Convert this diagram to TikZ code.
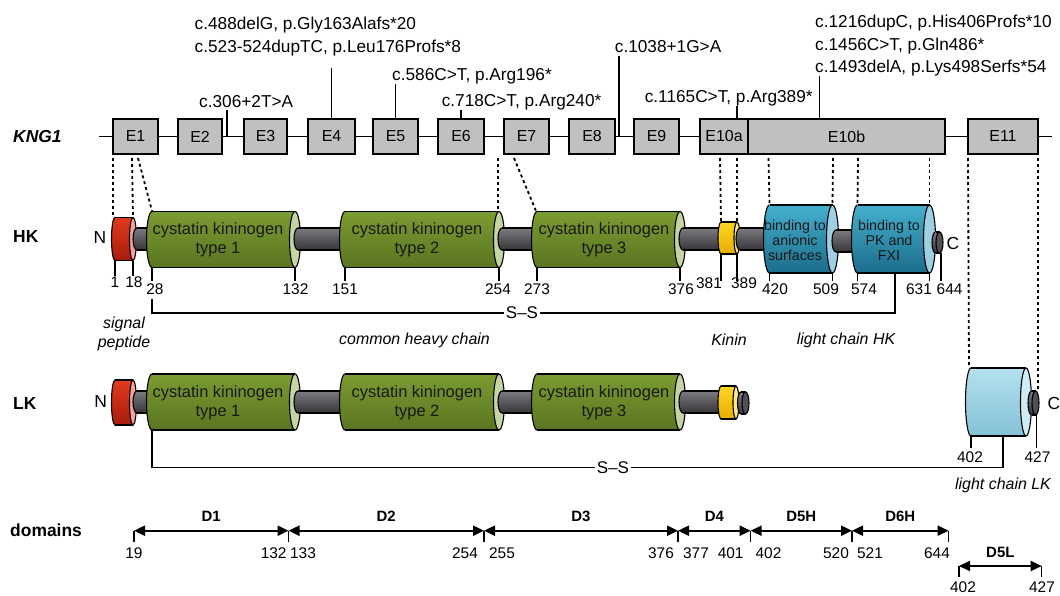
\documentclass[tikz,border=0pt]{standalone}
\usepackage{fontspec}
\setmainfont{Liberation Sans}
\usetikzlibrary{arrows.meta}

\definecolor{exongray}{HTML}{C0C0C0}
\definecolor{cysTop}{HTML}{7B9B32}
\definecolor{cysBot}{HTML}{5A7520}
\definecolor{cysFace}{HTML}{C6D4A4}
\definecolor{sigTop}{HTML}{E23A1C}
\definecolor{sigBot}{HTML}{A81C0C}
\definecolor{sigFace}{HTML}{F2A0A0}
\definecolor{kinTop}{HTML}{FFD524}
\definecolor{kinBot}{HTML}{E6AE00}
\definecolor{kinFace}{HTML}{FFE784}
\definecolor{bindTop}{HTML}{45B0CE}
\definecolor{bindBot}{HTML}{1B6C8A}
\definecolor{bindFace}{HTML}{9DD0E2}
\definecolor{lkTop}{HTML}{B4E1EE}
\definecolor{lkBot}{HTML}{84C2D7}
\definecolor{lkFace}{HTML}{CFECF5}
\definecolor{linkTop}{HTML}{7A7A80}
\definecolor{linkBot}{HTML}{36363A}
\definecolor{linkFace}{HTML}{505055}

\tikzset{
  cysbody/.style={top color=cysTop, bottom color=cysBot},
  cysface/.style={fill=cysFace},
  sigbody/.style={top color=sigTop, bottom color=sigBot},
  sigface/.style={fill=sigFace},
  kinbody/.style={top color=kinTop, bottom color=kinBot},
  kinface/.style={fill=kinFace},
  bindbody/.style={top color=bindTop, bottom color=bindBot},
  bindface/.style={fill=bindFace},
  lkbody/.style={top color=lkTop, bottom color=lkBot},
  lkface/.style={fill=lkFace},
  linkbody/.style={top color=linkTop, bottom color=linkBot},
  linkface/.style={fill=linkFace},
}

% #1 left x, #2 right x, #3 centre y, #4 half height, #5 x radius, #6 part
\newcommand{\protcyl}[6]{%
  \draw[line width=1.1bp, #6body] (#1,#3) ellipse[x radius=#5bp, y radius=#4bp];
  \path[#6body] (#1,#3-#4) rectangle (#2,#3+#4);
  \draw[line width=1.1bp] (#1,#3-#4) -- (#2,#3-#4) (#1,#3+#4) -- (#2,#3+#4);
  \draw[line width=1.1bp, #6face] (#2,#3) ellipse[x radius=#5bp, y radius=#4bp];
}

\begin{document}
\begin{tikzpicture}[x=1bp, y=-1bp,
    exon/.style={draw, line width=1.3bp, fill=exongray, minimum height=35bp, inner sep=0pt, font=\fontsize{16}{19}\selectfont},
    mut/.style={anchor=base west, inner sep=0pt, font=\fontsize{17.3}{21}\selectfont},
    stem/.style={line width=1.2bp},
    exdots/.style={line width=1.8bp, dash pattern=on 3bp off 3bp},
    rowlab/.style={anchor=west, inner sep=0pt, font=\bfseries\fontsize{17.5}{21}\selectfont},
    endlab/.style={inner sep=0pt, font=\fontsize{17.5}{21}\selectfont},
    num/.style={anchor=base, inner sep=0pt, font=\fontsize{15.5}{18}\selectfont},
    cystext/.style={align=center, inner sep=0pt, text=black!90, font=\fontsize{16.5}{18.7}\selectfont},
    bindtext/.style={align=center, inner sep=0pt, text=black!90, font=\fontsize{14.3}{15}\selectfont},
    ilab/.style={inner sep=0pt, font=\itshape\fontsize{16}{19}\selectfont},
    ss/.style={fill=white, inner xsep=2bp, inner ysep=0pt, font=\fontsize{17}{20}\selectfont},
    dom/.style={line width=2bp, {Triangle[length=11bp, width=10bp]}-{Triangle[length=11bp, width=10bp]}},
    dlab/.style={midway, anchor=base, yshift=9bp, inner sep=0pt, font=\bfseries\fontsize{15}{17}\selectfont}]

\useasboundingbox (0,0) rectangle (1060,596);

% KNG1 gene with exons
\node[rowlab, font=\bfseries\itshape\fontsize{17.5}{21}\selectfont] (kng) at (13,136.5) {KNG1};
\coordinate (g0) at (99,136.5);
\coordinate (g1) at (1052,136.5);
\draw[line width=1.5bp] (g0) -- (g1);
\foreach \n/\x/\w in {E1/135.5/45, E2/200/44, E3/265.5/43, E4/331.5/47, E5/395.5/45, E6/461/46,
    E7/526.5/45, E8/592/46, E9/656.5/45, E10a/724/48, E10b/846.5/197, E11/1003/70}
  \node[exon, minimum width=\w bp] (\n) at (\x,136.5) {\n};

% mutations
\node[mut] (m2) at (199,108) {c.306+2T>A};
\node[mut] (m4a) at (194.5,30) {c.488delG, p.Gly163Alafs*20};
\node[mut] (m4b) at (194.5,53) {c.523-524dupTC, p.Leu176Profs*8};
\node[mut] (m5) at (392,81) {c.586C>T, p.Arg196*};
\node[mut] (m6) at (441.6,107) {c.718C>T, p.Arg240*};
\node[mut] (m8) at (614.7,53) {c.1038+1G>A};
\node[mut] (m10a) at (644.6,103) {c.1165C>T, p.Arg389*};
\node[mut] (m10b) at (815,28) {c.1216dupC, p.His406Profs*10};
\node[mut] (m10c) at (815,51) {c.1456C>T, p.Gln486*};
\node[mut] (m10d) at (815,73) {c.1493delA, p.Lys498Serfs*54};

\draw[stem] (227,110) -- (227,136.5);
\draw[stem] (E4.north) -- ++(0,-50);
\draw[stem] (E5.north) -- ++(0,-34);
\draw[stem] (E6.north) -- ++(0,-8);
\draw[stem] (619,56) -- (619,136.5);
\draw[stem] (737,119) -- ++(0,-13);
\draw[stem] (819.5,119) -- ++(0,-43);

% exons to protein
\foreach \xa/\xb/\yb in {113/113/217, 132/133/217, 138/152/211, 498/498/211, 514/536/211,
    720/721/222, 737/737/222, 768.5/769.5/205, 833/832.5/205, 858/857.5/205,
    929.5/929.5/205, 968/969/368, 1038/1038/390}
  \draw[exdots] (\xa,158) -- (\xb,\yb);

% HK
\node[rowlab] (hk) at (13,237) {HK};
\node[endlab] (hkN) at (100,237.3) {N};
\protcyl{115}{133}{239}{21.5}{3.5}{sig}
\protcyl{137}{158}{239}{11}{4}{link}
\protcyl{152}{295}{239.5}{28}{5.5}{cys}
\protcyl{298}{351}{239}{11}{4}{link}
\protcyl{345}{499}{239.5}{28}{5.5}{cys}
\protcyl{502}{543}{239}{11}{4}{link}
\protcyl{537}{680}{239.5}{28}{5.5}{cys}
\protcyl{683}{727}{239}{11}{4}{link}
\protcyl{721}{737}{238}{16}{3}{kin}
\protcyl{740}{776}{239}{11}{4}{link}
\protcyl{769.5}{832.5}{239}{34}{6}{bind}
\protcyl{836}{864}{241}{11}{4}{link}
\protcyl{857.5}{929.5}{239}{34}{6}{bind}
\protcyl{935.5}{939.5}{242.5}{10.5}{3.5}{link}
\node[endlab] (hkC) at (953,243) {C};

\node[cystext] (h1) at (218,240) {cystatin kininogen\\type 1};
\node[cystext] (h2) at (417,240) {cystatin kininogen\\type 2};
\node[cystext] (h3) at (604,240) {cystatin kininogen\\type 3};
\node[bindtext] (an) at (795,240) {binding to\\anionic\\surfaces};
\node[bindtext] (pk) at (889,240) {binding to\\PK and\\FXI};

\foreach \x/\y/\z in {115/261/276, 133/261/276, 152/267/281, 295/267/281, 345/267/281, 499/267/281,
    537/267/281, 680/267/281, 721/254/281, 737/254/281, 769.5/273/281, 832.5/273/281,
    857.5/273/281, 929.5/273/281, 941/253/281}
  \draw[stem] (\x,\y) -- (\x,\z);
\foreach \x/\y/\t in {115/287.5/1, 134/287.5/18, 155/295/28, 295.5/295/132, 345/295/151, 498/295/254,
    537/295/273, 681/294.5/376, 709/288.5/381, 744/288.5/389, 775/295/420, 826/295/509,
    864/295/574, 919/295/631, 949.6/295/644}
  \node[num] (h\t) at (\x,\y) {\t};

\node[ss] (ssH) at (522,313) {S--S};
\coordinate (pkb) at (895,273);
\draw[stem] (152,299) |- (ssH) -| (pkb);

\node[ilab, align=center] (sp) at (124,333.5) {signal\\peptide};
\node[ilab, anchor=base] (chc) at (414.5,344) {common heavy chain};
\node[ilab, anchor=base] (kinin) at (729,345) {Kinin};
\node[ilab, anchor=base] (lchk) at (846,344) {light chain HK};

% LK
\node[rowlab] (lk) at (13,404) {LK};
\node[endlab] (lkN) at (100.6,402) {N};
\protcyl{115}{133}{402.5}{22.5}{3.5}{sig}
\protcyl{137}{158}{402}{11}{4}{link}
\protcyl{152}{295}{402}{28}{5.5}{cys}
\protcyl{298}{351}{402}{11}{4}{link}
\protcyl{345}{499}{402}{28}{5.5}{cys}
\protcyl{502}{543}{402}{11}{4}{link}
\protcyl{537}{680}{402}{28}{5.5}{cys}
\protcyl{683}{727}{402}{11}{4}{link}
\protcyl{721}{736}{402.5}{16.5}{3}{kin}
\protcyl{741}{745.5}{403}{11}{3.5}{link}
\protcyl{971}{1026}{402}{34}{5.5}{lk}
\protcyl{1031.5}{1035.5}{403}{12}{3.5}{link}
\node[endlab] (lkC) at (1054,403) {C};

\node[cystext] (l1) at (218,403) {cystatin kininogen\\type 1};
\node[cystext] (l2) at (417,403) {cystatin kininogen\\type 2};
\node[cystext] (l3) at (604,403) {cystatin kininogen\\type 3};

\draw[stem] (971,436) -- (971,448);
\draw[stem] (1036.5,415) -- (1036.5,448);
\node[num] (l402) at (970,462.5) {402};
\node[num] (l427) at (1037.5,462.5) {427};

\node[ss] (ssL) at (613,467.7) {S--S};
\coordinate (lkb) at (1003,436);
\draw[stem] (152,430) |- (ssL) -| (lkb);
\node[ilab, anchor=base] (lclk) at (1003,489) {light chain LK};

% domains
\node[rowlab] (dom) at (10,530.7) {domains};
\foreach \n/\x in {d1/134, d2/288.5, d3/484, d4/678, d5/750.6, d6/852, d7/948.6}
  \coordinate (\n) at (\x,530.7);
\foreach \a/\b/\t in {d1/d2/D1, d2/d3/D2, d3/d4/D3, d4/d5/D4, d5/d6/D5H, d6/d7/D6H}
  \draw[dom] (\a) -- (\b) node[dlab] {\t};
\foreach \n in {d1,d2,d3,d4,d5,d6,d7}
  \draw[line width=1.5bp] (\n) -- ++(0,11.5);
\foreach \x/\t in {134/19, 273.7/132, 303/133, 465/254, 502/255, 661/376, 696/377,
    730.7/401, 768.5/402, 836/520, 870/521, 937/644}
  \node[num] (n\t) at (\x,558.5) {\t};

\coordinate (e1) at (959,566);
\coordinate (e2) at (1041.7,566);
\draw[dom] (e1) -- (e2) node[dlab] {D5L};
\draw[line width=1.5bp] (e1) -- ++(0,11);
\draw[line width=1.5bp] (e2) -- ++(0,11);
\node[num] (e402) at (963,592) {402};
\node[num] (e427) at (1042,592) {427};
\end{tikzpicture}
\end{document}
